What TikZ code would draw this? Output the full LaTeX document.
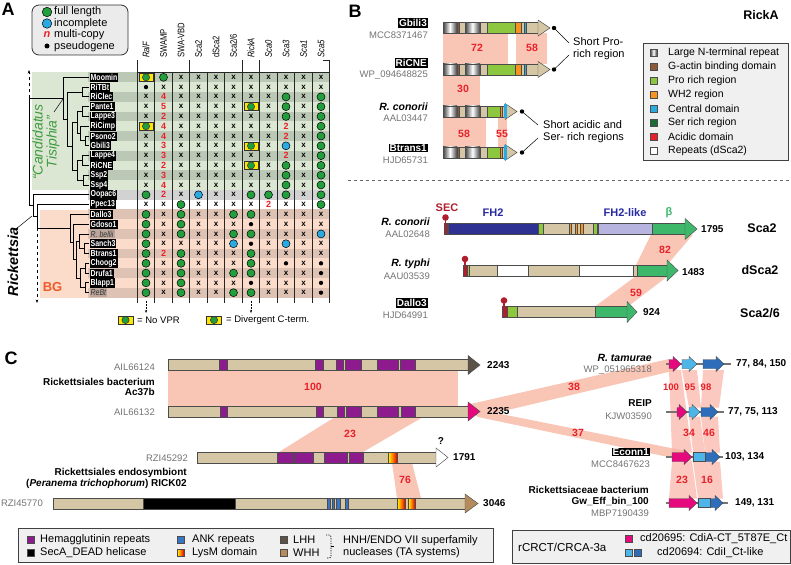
\documentclass[tikz,border=0pt]{standalone}
\usepackage{fontspec}
\setmainfont{Liberation Sans}
\newfontfamily\narrowsf{Liberation Sans}[FakeStretch=0.8]
\usetikzlibrary{arrows.meta,calc,positioning}

\definecolor{tisL}{HTML}{DCE7D3}
\definecolor{tisD}{HTML}{BCC8B6}
\definecolor{oopg}{HTML}{D2D2D2}
\definecolor{bgL}{HTML}{FBDCCB}
\definecolor{bgD}{HTML}{DEC3B5}
\definecolor{bellibox}{HTML}{BBA69B}
\definecolor{fullgreen}{HTML}{229E3C}
\definecolor{incblue}{HTML}{2AAAE2}
\definecolor{numred}{HTML}{E8202A}
\definecolor{yellowbox}{HTML}{FFE600}
\definecolor{tisgreen}{HTML}{3F9B3F}
\definecolor{bgtext}{HTML}{F15A29}
\definecolor{shaft}{HTML}{D5C7A6}
\definecolor{gact}{HTML}{8A5A3B}
\definecolor{prog}{HTML}{8DC63F}
\definecolor{wh2}{HTML}{F7931E}
\definecolor{central}{HTML}{29ABE2}
\definecolor{serrich}{HTML}{1D6B34}
\definecolor{acidic}{HTML}{E8202A}
\definecolor{fhtwo}{HTML}{2E3192}
\definecolor{fhlike}{HTML}{B8B4E0}
\definecolor{betag}{HTML}{3DB86B}
\definecolor{secred}{HTML}{B01E2E}
\definecolor{bandpink}{HTML}{F9C6B6}
\definecolor{hemag}{HTML}{8E1B8E}
\definecolor{ank}{HTML}{3A75C4}
\definecolor{lhh}{HTML}{5C5248}
\definecolor{whh}{HTML}{B58B5E}
\definecolor{cdia}{HTML}{E6097E}
\definecolor{lblue}{HTML}{4DB5E8}
\definecolor{dblue}{HTML}{2E6DB9}

% bar pieces: x1, x2, y centre, colour
\newcommand{\seg}[4]{\filldraw[seg,fill=#4] (#1,#3-5.5) rectangle (#2,#3+5.5);}
\newcommand{\rep}[3]{\shade[left color=black!75,right color=black!75,middle color=white] (#1,#3-5.5) rectangle (#2,#3+5.5); \draw[seg] (#1,#3-5.5) rectangle (#2,#3+5.5);}
\newcommand{\lysm}[3]{\shade[left color=yellow,right color=red!85!black,middle color=orange] (#1,#3-5.5) rectangle (#2,#3+5.5); \draw[seg] (#1,#3-5.5) rectangle (#2,#3+5.5);}
\newcommand{\head}[5]{\filldraw[seg,fill=#5] (#1,#3-#4) -- (#2,#3) -- (#1,#3+#4) -- cycle;}
\newcommand{\gene}[4]{\filldraw[seg,fill=#4] (#1,#3-4.5) -- (#2-8,#3-4.5) -- (#2-8,#3-7.5) -- (#2,#3) -- (#2-8,#3+7.5) -- (#2-8,#3+4.5) -- (#1,#3+4.5) -- cycle;}
\newcommand{\lolli}[2]{\draw[secred,line width=1.4pt] (#1,#2) -- (#1,#2-5); \fill[secred] (#1,#2-6) circle (3.3pt);}
\newcommand{\clade}[5]{\draw[tr] (#4,#2) -| (#1,#3) -- (#5,#3);}
\newcommand{\ricklong}[1]{%
  \seg{443}{538}{#1}{shaft}\rep{443}{457}{#1}\seg{457}{459.5}{#1}{gact}\rep{465}{480}{#1}%
  \seg{487}{515}{#1}{prog}\seg{515}{521}{#1}{wh2}\seg{524.5}{526.5}{#1}{central}\head{538}{550}{#1}{8}{shaft}}
\newcommand{\rickshort}[1]{%
  \seg{443}{505}{#1}{shaft}\rep{443}{457}{#1}\seg{457}{459.5}{#1}{gact}\rep{465}{480}{#1}%
  \seg{487}{500}{#1}{prog}\seg{500}{502}{#1}{wh2}\head{505}{517}{#1}{8}{shaft}%
  \fill[central] (504,#1-7) rectangle (506.5,#1+7);}

\begin{document}
\begin{tikzpicture}[x=1pt,y=-1pt,
  seg/.style={draw=black!70,line width=.45pt},
  tr/.style={line width=.9pt},
  gridline/.style={draw=black!85,line width=.8pt},
  gline/.style={draw=black!55,line width=1.2pt},
  leaf/.style={fill=black,text=white,font=\narrowsf\fontsize{8.7}{9}\selectfont\bfseries,inner sep=1pt,minimum height=9pt,anchor=west},
  leafi/.style={leaf,fill=bellibox,text=black!80,font=\narrowsf\fontsize{8.7}{9}\selectfont\itshape},
  hdr/.style={rotate=90,anchor=west,font=\narrowsf\fontsize{9.5}{10}\selectfont,inner sep=0pt},
  acc/.style={text=black!55,font=\fontsize{9.5}{10}\selectfont,inner sep=0pt,anchor=east},
  sp/.style={font=\fontsize{10}{10.8}\selectfont\bfseries,inner sep=0pt,anchor=east,align=right},
  tag/.style={fill=black,text=white,font=\fontsize{10}{11}\selectfont\bfseries,inner sep=1pt,anchor=east},
  pct/.style={text=numred,font=\fontsize{10.5}{11}\selectfont\bfseries,inner sep=0pt},
  len/.style={font=\fontsize{10}{11}\selectfont\bfseries,inner sep=0pt,anchor=west},
  lg/.style={font=\fontsize{11}{12.5}\selectfont,inner sep=0pt,anchor=west,align=left},
  dom/.style={font=\fontsize{11}{12}\selectfont\bfseries,inner sep=0pt},
  prot/.style={font=\fontsize{12.5}{13}\selectfont\bfseries,inner sep=0pt},
  panel/.style={font=\fontsize{18}{18}\selectfont\bfseries,inner sep=0pt},
  band/.style={fill=bandpink},
  vband/.style={fill=bandpink!90!red,fill opacity=.7},
  sq/.style={draw=black!70,line width=.5pt},
  lgbox/.style={draw=black!75,fill=black!6,line width=.8pt},
  cell G/.style={circle,draw=black,line width=.5pt,fill=fullgreen,minimum size=8pt,inner sep=0pt,node contents={}},
  cell B/.style={cell G,fill=incblue},
  cell d/.style={circle,fill=black,minimum size=4.3pt,inner sep=0pt,node contents={}},
  cell Y/.style={draw=black!80,line width=.4pt,fill=yellowbox,minimum width=13.5pt,minimum height=8pt,inner sep=0pt,node contents={},
    path picture={\draw[fill=fullgreen,line width=.5pt] (path picture bounding box.center) circle (3.6pt);}},
  cell x/.style={font=\fontsize{8}{8}\selectfont\bfseries,inner sep=0pt,node contents={x}},
  num/.style={text=numred,font=\fontsize{9}{9}\selectfont\bfseries,inner sep=0pt},
  cell 2/.style={num,node contents={2}},
  cell 3/.style={num,node contents={3}},
  cell 4/.style={num,node contents={4}},
  cell 5/.style={num,node contents={5}}]
\useasboundingbox (0,0) rectangle (791,564);

%% ---------------- A
\node[panel] (pA) at (8,9) {A};
\draw[rounded corners=7pt,fill=black!8,draw=black!80,line width=.8pt] (32,5) rectangle (128,55);
\node (lgG) at (47,12) [cell G,minimum size=9.5pt];
\node (lgB) at (47,23.5) [cell B,minimum size=9.5pt];
\node[text=numred,font=\fontsize{11}{11}\selectfont\bfseries\itshape,inner sep=0pt] (lgN) at (47,34.5) {n};
\node (lgD) at (47,46) [cell d,minimum size=5pt];
\node[lg] (lgGt) at (54,12) {full length};
\node[lg] (lgBt) at (54,23.5) {incomplete};
\node[lg] (lgNt) at (54,35) {multi-copy};
\node[lg] (lgDt) at (54,46.5) {pseudogene};

% column heads
\foreach \h [count=\c from 0] in {{\itshape RalF},SWAMP,SWA-VBD,Sca2,dSca2,{Sca2/6},{\itshape RickA},{\itshape Sca0},{\itshape Sca3},{\itshape Sca1},{\itshape Sca5}}
  \node[hdr] (h\c) at (146+17.5*\c,58) {\h};

% clade backgrounds
\fill[tisL] (32,72.4) rectangle (137.25,189.9);
\fill[bgL] (40,209.5) rectangle (137.25,297.6);

% rows
\foreach \nm/\bandc/\lst/\codes [count=\r from 0] in {
  Moomin/tisD/leaf/{Y,G,x,x,x,x,x,x,x,x,x},
  RiTBt/tisL/leaf/{d,x,x,x,x,x,x,x,x,x,x},
  RiClec/tisD/leaf/{x,4,x,x,x,x,x,x,G,x,G},
  Pante1/tisL/leaf/{x,5,x,x,x,x,Y,x,G,x,G},
  Lappe3/tisD/leaf/{x,2,x,x,x,x,x,x,G,x,G},
  RiCimp/tisL/leaf/{Y,4,x,x,x,x,x,x,2,x,G},
  Psono2/tisD/leaf/{x,4,x,x,x,x,x,x,2,x,G},
  Gbili3/tisL/leaf/{x,3,x,x,x,x,Y,x,B,x,G},
  Lappe4/tisD/leaf/{x,3,x,x,x,x,x,x,2,x,G},
  RiCNE/tisL/leaf/{x,2,x,x,x,x,Y,x,G,x,G},
  Ssp2/tisD/leaf/{x,3,x,x,x,x,x,x,G,x,G},
  Ssp4/tisL/leaf/{x,4,x,x,x,x,x,x,G,x,G},
  Oopac6/oopg/leaf/{G,2,x,B,x,x,G,G,G,x,G},
  Ppec13/white/leaf/{x,x,G,x,x,x,x,2,x,x,G},
  Dallo3/bgD/leaf/{G,x,G,x,x,G,G,x,x,x,x},
  Gdoso1/bgL/leaf/{G,x,G,x,x,x,d,x,x,x,x},
  R. bellii/bgD/leafi/{G,x,G,x,x,G,G,x,x,x,B},
  Sanch3/bgL/leaf/{G,x,x,x,x,B,d,x,B,x,x},
  Btrans1/bgD/leaf/{G,2,G,x,x,x,G,x,x,x,x},
  Choog2/bgL/leaf/{G,x,G,x,x,x,G,x,d,x,d},
  Drufa1/bgD/leaf/{G,x,G,x,x,G,G,x,x,x,d},
  Blapp1/bgL/leaf/{G,x,G,x,x,x,d,x,x,x,d},
  ReBt/bgD/leafi/{G,x,G,x,x,G,G,x,x,x,d}}{
  \fill[\bandc] (88,77.3+9.79*\r-4.9) rectangle (329.75,77.3+9.79*\r+4.9);
  \node[\lst] (lf\r) at (89.5,77.3+9.79*\r) {\nm};
  \foreach \k [count=\c from 0] in \codes
    \node (c\r-\c) at (146+17.5*\c,77.3+9.79*\r) [cell \k];
}

% tree
\clade{82}{87.1}{96.9}{89}{89}
\clade{82}{106.7}{116.5}{89}{89}
\clade{85}{136.0}{145.8}{89}{89}
\clade{80}{126.3}{140.9}{89}{85}
\clade{77}{111.6}{133.6}{82}{80}
\clade{82}{155.6}{165.4}{89}{89}
\clade{83}{175.2}{185.0}{89}{89}
\clade{77}{160.5}{180.1}{82}{83}
\clade{72}{122.6}{170.3}{77}{77}
\clade{67}{92.0}{146.5}{82}{72}
\clade{63}{77.3}{119.2}{89}{67}
\clade{84}{243.7}{253.5}{89}{89}
\clade{79}{234.0}{248.6}{89}{84}
\clade{85}{263.3}{273.1}{89}{89}
\clade{85}{282.9}{292.7}{89}{89}
\clade{80}{268.2}{287.8}{85}{85}
\clade{76}{241.3}{278.0}{79}{80}
\clade{73}{224.2}{259.7}{89}{76}
\clade{70}{214.4}{242.0}{89}{73}
\clade{37}{204.6}{228.2}{89}{70}
\clade{33}{194.8}{216.4}{89}{37}
\clade{29}{98.3}{205.6}{63}{33}
\draw[tr,dashed,-{Stealth[length=3.5pt]}] (29,98.3) -- (29,70);
\draw[tr,dashed,-{Stealth[length=3.5pt]}] (37,228.2) -- (37,303);

\node[rotate=90,align=center,text=tisgreen,font=\fontsize{14}{14}\selectfont\itshape,inner sep=0pt] (tis) at (46,142) {“Candidatus\\Tisiphia”};
\draw[line width=.5pt] (54,112) -- (63,99);
\node[rotate=90,font=\fontsize{14.5}{15}\selectfont\bfseries\itshape,inner sep=0pt] (rick) at (13,262) {Rickettsia};
\draw[line width=.5pt] (16,229) -- (32,216);
\node[text=bgtext,font=\fontsize{13}{13}\selectfont\bfseries,inner sep=0pt] (bg) at (52.5,287) {BG};

% grid lines
\foreach \i in {0,...,11} \draw[gridline] (137.25+17.5*\i,72.4) -- (137.25+17.5*\i,303);
\foreach \i in {0,3,6,7,11} \draw[gridline] (137.25+17.5*\i,60) -- (137.25+17.5*\i,72.4);
\draw[gridline] (137.25,72.4) -- (329.75,72.4);
\draw[gridline] (323,60) -- (329.75,60);
\draw[line width=.6pt,dash pattern=on 1.5pt off 1.5pt,-{Stealth[length=3pt]}] (146,301) -- (146,313);
\draw[line width=.6pt,dash pattern=on 1.5pt off 1.5pt,-{Stealth[length=3pt]}] (251,301) -- (251,313);
\node (yv) at (125.5,320) [cell Y,minimum width=15pt];
\node[lg,font=\fontsize{9.5}{10}\selectfont] (yvt) at (137,320) {= No VPR};
\node (yc) at (214,320) [cell Y,minimum width=15pt];
\node[lg,font=\fontsize{9.5}{10}\selectfont] (yct) at (226,320) {= Divergent C-term.};

%% ---------------- B
\node[panel] (pB) at (355,11) {B};
\node[prot] (rickA) at (761,15) {RickA};
\fill[band] (443,33.5) rectangle (508,64);
\fill[band] (516,33.5) rectangle (547,64);
\fill[band] (443,75) rectangle (480,106);
\fill[band] (443,117) rectangle (486,147);
\fill[band] (498,117) rectangle (507,147);
\node[pct] (p72) at (477,48) {72};
\node[pct] (p58a) at (532,48) {58};
\node[pct] (p30) at (463,89) {30};
\node[pct] (p58b) at (464,134) {58};
\node[pct] (p55) at (502,134) {55};
\ricklong{28}
\ricklong{69.5}
\rickshort{111.5}
\rickshort{152.5}
\node[tag] (tgb) at (428,23) {Gbili3};
\node[acc] (agb) at (428,35.5) {MCC8371467};
\node[tag] (trc) at (428,63) {RiCNE};
\node[acc] (arc) at (428,75.5) {WP\_094648825};
\node[sp,font=\fontsize{10.5}{11}\selectfont\bfseries\itshape] (tcon) at (428,107) {R. conorii};
\node[acc] (acon) at (428,118.5) {AAL03447};
\node[tag] (tbt) at (428,148) {Btrans1};
\node[acc] (abt) at (428,160) {HJD65731};
\fill (554,28) circle (2.2pt);
\fill (554,69.5) circle (2.2pt);
\draw[line width=.5pt] (554,28) -- (569,43);
\draw[line width=.5pt] (554,69.5) -- (569,55);
\node[lg] (spro) at (573,48.5) {Short Pro-\\rich region};
\fill (522,111.5) circle (2.2pt);
\fill (522,152.5) circle (2.2pt);
\draw[line width=.5pt] (522,111.5) -- (538,125);
\draw[line width=.5pt] (522,152.5) -- (538,138);
\node[lg] (sacid) at (543,131.5) {Short acidic and\\Ser- rich regions};

% RickA legend
\draw[lgbox] (643,43) rectangle (788,160);
\shade[left color=black!80,right color=black!80,middle color=white] (650,49.5) rectangle (657,56.5);
\draw[sq] (650,49.5) rectangle (657,56.5);
\node[lg,font=\fontsize{10.5}{12}\selectfont] (lk0) at (668,53) {Large N-terminal repeat};
\foreach \cl/\tx [count=\i] in {gact/G-actin binding domain,prog/Pro rich region,wh2/WH2 region,central/Central domain,serrich/Ser rich region,acidic/Acidic domain,white/Repeats (dSca2)}{
  \filldraw[sq,fill=\cl] (650,53+14*\i-3.5) rectangle (657,53+14*\i+3.5);
  \node[lg,font=\fontsize{10.5}{12}\selectfont] (lk\i) at (668,53+14*\i) {\tx};
}

\draw[black!60,line width=.6pt,dashed] (348,180) -- (791,180);

% Sca2 family
\fill[band] (651,234.5) -- (693,234.5) -- (667,265) -- (636,265) -- cycle;
\fill[band] (636,276) -- (668,276) -- (628,306.5) -- (595,306.5) -- cycle;
\node[pct] (p82) at (665,250) {82};
\node[pct] (p59) at (636,293) {59};
\seg{444}{685}{229}{shaft}\seg{444}{447}{229}{secred}\seg{448}{538}{229}{fhtwo}\seg{538}{543}{229}{prog}
\seg{569}{571}{229}{wh2}\seg{575}{577}{229}{wh2}\seg{580}{583}{229}{wh2}\seg{593}{597}{229}{prog}
\seg{598}{652}{229}{fhlike}\seg{652}{685}{229}{betag}\head{685}{697}{229}{10.5}{betag}
\lolli{445.5}{223.5}
\seg{463}{667}{270.5}{shaft}\seg{463}{467}{270.5}{secred}\seg{467}{469.5}{270.5}{prog}
\seg{497}{528}{270.5}{white}\seg{579}{633}{270.5}{white}\seg{637}{667}{270.5}{betag}\head{667}{678}{270.5}{10.5}{betag}
\lolli{465}{265}
\seg{502}{627}{312}{shaft}\seg{502}{507}{312}{secred}\seg{507}{517}{312}{prog}\seg{595}{627}{312}{betag}\head{627}{637}{312}{10.5}{betag}
\lolli{504}{306.5}
\node[dom,text=secred] (sec) at (447,208) {SEC};
\node[dom,text=fhtwo!85!blue] (fh2) at (493,213) {FH2};
\node[dom,text=fhtwo!85!blue] (fh2l) at (625,213) {FH2-like};
\node[dom,text=betag] (beta) at (669,213) {β};
\node[len] (l1795) at (701,229) {1795};
\node[len] (l1483) at (682,272) {1483};
\node[len] (l924) at (643,312) {924};
\node[prot] (nsca2) at (762,228) {Sca2};
\node[prot] (ndsca2) at (760,270) {dSca2};
\node[prot] (nsca26) at (760,313) {Sca2/6};
\node[sp,font=\fontsize{10.5}{11}\selectfont\bfseries\itshape] (tcon2) at (430,222) {R. conorii};
\node[acc] (acon2) at (430,234.5) {AAL02648};
\node[sp,font=\fontsize{10.5}{11}\selectfont\bfseries\itshape] (ttyp) at (430,264) {R. typhi};
\node[acc] (atyp) at (430,276) {AAU03539};
\node[tag] (tdal) at (428,303) {Dallo3};
\node[acc] (adal) at (428,315) {HJD64991};

%% ---------------- C
\node[panel] (pC) at (11,358) {C};
\fill[band] (168,370.5) rectangle (458,406);
\fill[band] (335,417) -- (423,417) -- (363,452) -- (279,452) -- cycle;
\fill[band] (392,463) -- (412,463) -- (421,498) -- (397,498) -- cycle;
\fill[band] (466,405) -- (669,359) -- (677,370) -- (478,417) -- cycle;
\fill[band] (466,407) -- (686,451) -- (692,462) -- (478,417) -- cycle;
\fill[vband] (669,370) -- (681,370) -- (692,452.5) -- (672,452.5) -- cycle;
\fill[vband] (682,370) -- (697,370) -- (701,407.5) -- (689,407.5) -- cycle;
\fill[vband] (703,370) -- (724,370) -- (719,407.5) -- (701,407.5) -- cycle;
\fill[vband] (689,416.5) -- (700,416.5) -- (705,452.5) -- (693,452.5) -- cycle;
\fill[vband] (701,416.5) -- (718,416.5) -- (720,452.5) -- (705,452.5) -- cycle;
\fill[vband] (672,461.5) -- (692,461.5) -- (697,498.5) -- (669,498.5) -- cycle;
\fill[vband] (693,461.5) -- (720,461.5) -- (723,498.5) -- (698,498.5) -- cycle;
\node[pct] (p100) at (313,387) {100};
\node[pct] (p23a) at (350,434) {23};
\node[pct] (p76) at (405,480) {76};
\node[pct] (p38) at (574,387) {38};
\node[pct] (p37) at (578,433) {37};
\node[pct,font=\fontsize{9.5}{10}\selectfont\bfseries] (p100b) at (671,387) {100};
\node[pct,font=\fontsize{9.5}{10}\selectfont\bfseries] (p95) at (690,387) {95};
\node[pct,font=\fontsize{9.5}{10}\selectfont\bfseries] (p98) at (706,387) {98};
\node[pct] (p34) at (689,433) {34};
\node[pct] (p46) at (709,433) {46};
\node[pct] (p23b) at (682,480) {23};
\node[pct] (p16) at (707,480) {16};

% large proteins
\seg{168}{468}{365}{shaft}
\foreach \a/\b in {219/227,315/323,336/343,345/361,377/398,400/415} {\seg{\a}{\b}{365}{hemag}}
\head{468}{480}{365}{9.5}{lhh}
\seg{168}{468}{411.5}{shaft}
\foreach \a/\b in {220/227,316/323,337/344,346/361,377/398,401/415} {\seg{\a}{\b}{411.5}{hemag}}
\head{468}{480}{411.5}{9.5}{cdia}
\seg{197}{436}{457.5}{shaft}
\foreach \a/\b in {277/293,294/313,324/347,349/363} {\seg{\a}{\b}{457.5}{hemag}}
\lysm{388}{397}{457.5}
\head{436}{448}{457.5}{9.5}{white}
\seg{53}{465}{503.5}{shaft}
\seg{143}{235}{503.5}{black}
\foreach \a/\b in {327/330,332/334.5,336/340,345/348} {\seg{\a}{\b}{503.5}{ank}}
\lysm{397}{405}{503.5}
\lysm{408}{415}{503.5}
\head{465}{478}{503.5}{9.5}{whh}
\node[len] (l2243) at (487,365) {2243};
\node[len] (l2235) at (487,411.5) {2235};
\node[len] (l1791) at (453,457.5) {1791};
\node[len] (l3046) at (483,503.5) {3046};
\node[font=\fontsize{10}{11}\selectfont\bfseries,inner sep=0pt] (qm) at (441,441) {?};
\node[acc] (a124) at (155,367) {AIL66124};
\node[sp] (ac37) at (155,387) {Rickettsiales bacterium\\Ac37b};
\node[acc] (a132) at (155,412.5) {AIL66132};
\node[acc] (a292) at (188,458) {RZI45292};
\node[sp] (rick02) at (187,478.5) {Rickettsiales endosymbiont\\(\textit{Peranema trichophorum}) RICK02};
\node[acc] (a770) at (43,503.5) {RZI45770};

% small operons
\draw[gline] (666,364) -- (731,364);
\gene{669}{681}{364}{cdia}\gene{682}{697}{364}{lblue}\gene{703}{724}{364}{dblue}
\draw[gline] (666,412) -- (724,412);
\gene{677}{687}{412}{cdia}\gene{689}{700}{412}{lblue}\gene{701}{718}{412}{dblue}
\draw[gline] (666,457) -- (723,457);
\gene{672}{692}{457}{cdia}\gene{693}{720}{457}{dblue}
\filldraw[seg,fill=lblue] (693,452.5) rectangle (705,461.5);
\draw[gline] (666,503) -- (728,503);
\gene{669}{697}{503}{cdia}\gene{698}{723}{503}{dblue}
\filldraw[seg,fill=lblue] (698,498.5) rectangle (710,507.5);
\node[len] (o1) at (736,364) {77, 84, 150};
\node[len] (o2) at (728,412) {77, 75, 113};
\node[len] (o3) at (725,457) {103, 134};
\node[len] (o4) at (735,503) {149, 131};
\node[sp,font=\fontsize{10.5}{11}\selectfont\bfseries\itshape] (rtam) at (652,358) {R. tamurae};
\node[acc] (artam) at (652,370.5) {WP\_051965318};
\node[sp] (reip) at (652,403) {REIP};
\node[acc] (areip) at (652,416.5) {KJW03590};
\node[tag] (tecn) at (650,452) {Econn1};
\node[acc] (aecn) at (650,464) {MCC8467623};
\node[sp] (gw) at (649,496) {Rickettsiaceae bacterium\\Gw\_Eff\_bin\_100};
\node[acc] (agw) at (649,513.5) {MBP7190439};

% legends C
\draw[lgbox] (18,528) rectangle (493,562);
\filldraw[sq,fill=hemag] (27,536.5) rectangle (34,543.5);
\node[lg] (kh) at (40,540) {Hemagglutinin repeats};
\filldraw[sq,fill=black] (27,549.5) rectangle (34,556.5);
\node[lg] (ks) at (40,553) {SecA\_DEAD helicase};
\filldraw[sq,fill=ank] (177,536.5) rectangle (184,543.5);
\node[lg] (ka) at (192,540) {ANK repeats};
\shade[left color=yellow,right color=red!85!black,middle color=orange] (177,549.5) rectangle (184,556.5);
\draw[sq] (177,549.5) rectangle (184,556.5);
\node[lg] (kl) at (192,553) {LysM domain};
\filldraw[sq,fill=lhh] (280,536.5) rectangle (287,543.5);
\node[lg] (klhh) at (293,540) {LHH};
\filldraw[sq,fill=whh] (280,549.5) rectangle (287,556.5);
\node[lg] (kwhh) at (293,553) {WHH};
\draw[line width=.6pt,dash pattern=on 1.2pt off 1.2pt,rounded corners=2pt] (326,535) -- (331,535) -- (331,558) -- (326,558);
\draw[line width=.6pt] (331,546.5) -- (334,546.5);
\node[lg] (knuc) at (343,546.5) {HNH/ENDO VII superfamily\\nucleases (TA systems)};
\draw[lgbox] (512,530) rectangle (790,563);
\node[lg,font=\fontsize{11.5}{12.5}\selectfont] (kcr) at (518,547) {rCRCT/CRCA-3a};
\filldraw[sq,fill=cdia] (625,535.5) rectangle (632,542.5);
\node[lg] (kcd1) at (640,539) {cd20695: CdiA-CT\_5T87E\_Ct};
\filldraw[sq,fill=lblue] (625,549.5) rectangle (632,556.5);
\filldraw[sq,fill=dblue] (634,549.5) rectangle (641,556.5);
\node[lg] (kcd2) at (657,553) {cd20694: CdiI\_Ct-like};
\end{tikzpicture}
\end{document}
